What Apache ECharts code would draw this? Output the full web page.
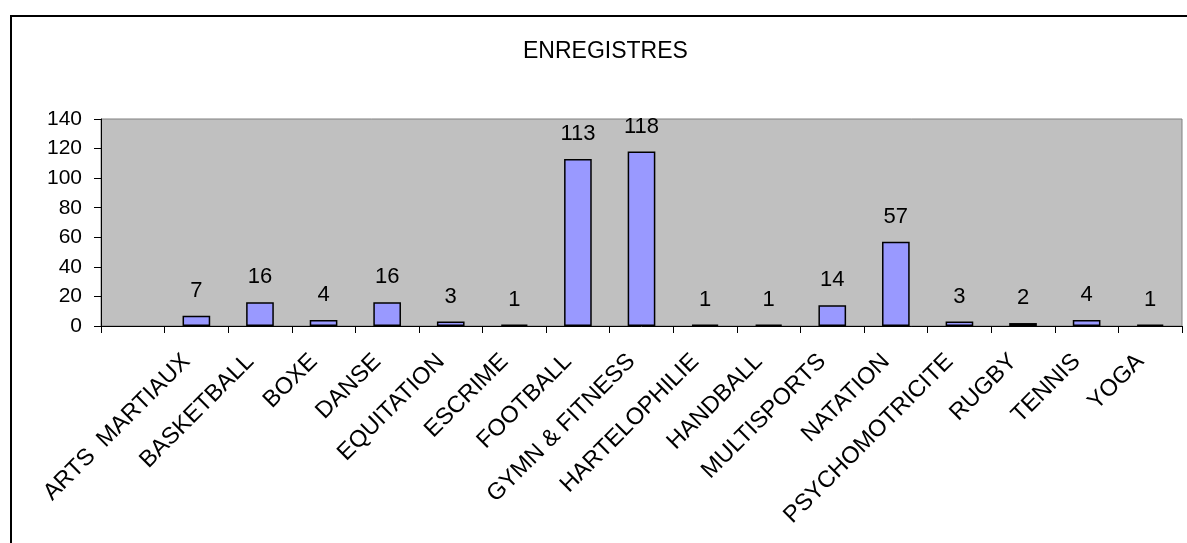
<!DOCTYPE html>
<html>
<head>
<meta charset="utf-8">
<script src="https://cdn.jsdelivr.net/npm/echarts@6/dist/echarts.min.js"></script>
<style>
  html, body { margin: 0; padding: 0; background: #ffffff; }
  #chart { width: 1187px; height: 543px; }
</style>
</head>
<body>
<div id="chart"></div>
<script>
// Registered members per sport
const chartTitle = 'ENREGISTRES';
const categories = [
  'ARTS  MARTIAUX', 'BASKETBALL', 'BOXE', 'DANSE', 'EQUITATION', 'ESCRIME',
  'FOOTBALL', 'GYMN & FITNESS', 'HARTELOPHILIE', 'HANDBALL', 'MULTISPORTS',
  'NATATION', 'PSYCHOMOTRICITE', 'RUGBY', 'TENNIS', 'YOGA'
];
const values = [7, 16, 4, 16, 3, 1, 113, 118, 1, 1, 14, 57, 3, 2, 4, 1];
const yTicks = { min: 0, max: 140, interval: 20 };

// The axis starts with one blank slot before the first sport
const axisData = [''].concat(categories);
const seriesData = ['-'].concat(values);

const FONT = '"Liberation Sans", Arial, sans-serif';

const chart = echarts.init(document.getElementById('chart'), null, { renderer: 'canvas' });
chart.setOption({
  animation: false,
  backgroundColor: '#ffffff',
  title: {
    text: chartTitle,
    left: 518,
    top: 35,
    textStyle: { fontFamily: FONT, fontSize: 23, fontWeight: 'normal', color: '#000', lineHeight: 23 }
  },
  graphic: [{
    type: 'rect',
    shape: { x: 11, y: 16, width: 1300, height: 700 },
    style: { fill: 'none', stroke: '#000', lineWidth: 2 },
    silent: true,
    z: 100
  }],
  grid: {
    left: 101, right: 5, top: 119, bottom: 217,
    show: true,
    backgroundColor: '#C0C0C0',
    borderColor: '#808080',
    borderWidth: 1
  },
  xAxis: {
    type: 'category',
    data: axisData,
    boundaryGap: true,
    axisLine: { lineStyle: { color: '#000', width: 1 } },
    axisTick: { show: true, alignWithLabel: false, length: 7, lineStyle: { color: '#000' } },
    axisLabel: {
      interval: 0, rotate: 45, margin: 22, padding: [0, 14, 0, 0],
      fontFamily: FONT, fontSize: 23.5, color: '#000'
    },
    splitLine: { show: false }
  },
  yAxis: {
    type: 'value',
    min: yTicks.min, max: yTicks.max, interval: yTicks.interval,
    axisLine: { show: true, lineStyle: { color: '#000', width: 1 } },
    axisTick: { show: true, length: 7, lineStyle: { color: '#000' } },
    axisLabel: { margin: 19, fontFamily: FONT, fontSize: 21, color: '#000' },
    splitLine: { show: false }
  },
  series: [{
    type: 'bar',
    data: seriesData,
    barWidth: '43.5%',
    itemStyle: { color: '#9999FF', borderColor: '#000', borderWidth: 1.5 },
    label: {
      show: true, position: 'top', distance: 14,
      fontFamily: FONT, fontSize: 22, color: '#000'
    }
  }]
});
</script>
</body>
</html>
